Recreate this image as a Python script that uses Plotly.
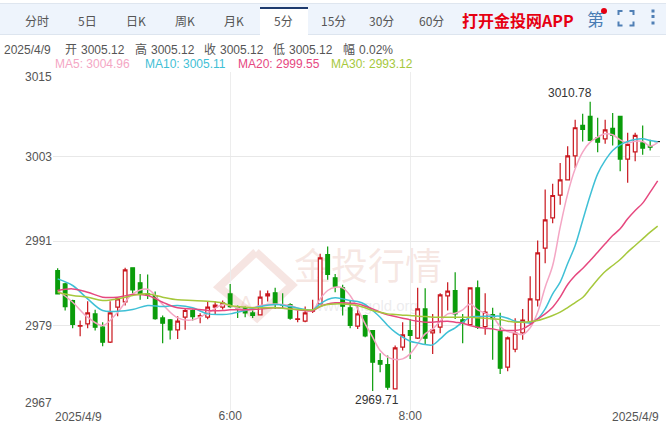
import plotly.graph_objects as go

open_ = [2986.81,2984.91,2982.55,2978.90,2979.23,2980.65,2978.76,2976.63,2981.60,2982.36,
 2987.19,2985.06,2983.49,2983.26,2980.08,2979.80,2978.38,2980.18,2981.13,2980.32,
 2980.18,2981.60,2981.60,2983.49,2981.69,2981.51,2980.79,2980.51,2983.21,2983.64,
 2981.98,2981.98,2979.85,2979.61,2981.03,2982.07,2989.08,2985.77,2984.35,2981.51,
 2978.90,2980.42,2978.29,2974.02,2973.46,2970.00,2975.92,2978.29,2977.20,2981.36,
 2977.95,2978.76,2983.21,2983.97,2979.80,2979.14,2984.35,2978.85,2980.56,2978.14,
 2973.08,2975.63,2977.95,2979.56,2982.64,2989.98,2994.29,2997.51,2999.69,3003.10,
 3007.41,3008.69,3005.66,3005.51,3006.98,3008.69,3002.63,3003.67,3004.95,3004.47,3005.12]
close = [2983.49,2981.69,2979.14,2979.00,2980.79,2978.76,2976.63,2980.79,2982.78,2986.90,
 2984.06,2983.49,2983.35,2979.99,2979.33,2978.38,2979.61,2981.13,2980.27,2980.42,
 2981.60,2981.88,2982.22,2981.69,2981.51,2980.79,2980.42,2983.02,2983.49,2981.98,
 2981.88,2980.04,2979.94,2980.79,2981.13,2988.61,2986.24,2984.58,2981.74,2979.00,
 2980.65,2977.53,2973.79,2973.50,2970.24,2975.82,2977.67,2977.58,2981.36,2977.20,
 2978.38,2983.35,2983.87,2980.65,2979.52,2984.35,2978.76,2980.89,2979.99,2972.94,
 2977.24,2977.91,2979.75,2982.78,2989.32,2994.01,2997.46,2999.69,3003.10,3007.08,
 3006.84,3005.28,3005.04,3006.79,3005.99,3002.63,3004.71,3005.99,3004.19,3004.33,3005.12]
high = [2987.14,2985.06,2982.64,2979.71,2982.45,2981.22,2979.47,2982.45,2982.88,2987.19,
 2987.28,2986.33,2986.24,2983.83,2980.42,2979.94,2980.32,2981.36,2981.27,2980.75,
 2982.45,2982.45,2982.55,2984.91,2981.84,2981.69,2981.13,2983.97,2983.97,2984.35,
 2983.59,2982.17,2981.13,2981.69,2982.64,2989.18,2990.22,2986.33,2984.77,2982.55,
 2981.69,2980.51,2978.29,2975.07,2974.73,2976.15,2979.47,2979.94,2984.35,2984.30,
 2980.65,2983.59,2985.15,2986.57,2980.65,2984.44,2985.39,2983.59,2981.51,2980.80,
 2977.43,2980.04,2981.36,2986.00,2991.07,2998.32,2999.12,3002.06,3004.47,3008.21,
 3009.07,3010.78,3008.50,3008.21,3009.16,3008.69,3006.37,3006.37,3007.41,3005.37,3005.12]
low = [2983.40,2981.13,2978.62,2977.48,2978.62,2978.29,2976.06,2976.53,2980.32,2981.84,
 2983.35,2982.64,2982.78,2979.80,2976.49,2977.01,2977.10,2978.38,2979.71,2979.33,
 2979.90,2980.65,2981.27,2981.51,2980.08,2980.18,2980.08,2980.42,2982.40,2981.36,
 2981.36,2979.80,2979.47,2979.47,2980.79,2981.98,2985.48,2983.73,2980.42,2978.62,
 2978.52,2977.34,2969.71,2972.37,2969.86,2969.95,2975.44,2974.26,2977.10,2976.39,
 2974.97,2977.91,2981.13,2979.94,2976.49,2979.00,2978.52,2977.67,2974.12,2972.13,
 2972.51,2975.21,2976.96,2979.23,2981.70,2987.84,2993.53,2996.14,2999.60,3001.35,
 3005.14,3005.20,3003.62,3004.80,3004.57,3000.92,2999.26,3002.34,3003.24,3003.86,3005.12]

ma_index = [0,2,4,6,8,10,12,14,16,18,20,22,23,25,27,29,31,33] + list(range(34, 81))
ma5 = [2983.97,2982.31,2980.18,2979.00,2980.89,2983.49,2984.16,2981.98,2980.08,2979.80,2980.79,2981.98,
 2981.84,2981.22,2981.84,2982.07,2981.84,2981.13,
 2981.13,2982.78,2983.97,2984.44,2984.35,2983.26,2981.36,2979.23,2977.34,2975.44,2974.50,2974.17,2974.26,2974.97,2976.39,2977.81,
 2978.52,2979.61,2980.65,2980.75,2981.22,2982.07,2981.22,2980.75,2980.27,2978.85,2978.14,2977.95,2977.72,2978.67,2980.89,2984.44,2987.52,
 2992.97,2997.70,3001.25,3003.62,3005.04,3005.75,3006.22,3006.08,3005.37,3004.90,3005.18,3005.14,3004.47,3004.96]
ma10 = [2985.62,2984.68,2982.78,2981.13,2981.03,2981.27,2981.84,2981.69,2981.84,2981.51,2980.65,2980.56,
 2980.65,2981.13,2981.69,2981.98,2981.69,2981.27,
 2981.22,2982.07,2982.69,2982.93,2982.78,2982.55,2982.40,2981.98,2981.13,2980.18,2979.00,2978.05,2977.34,2976.77,2976.53,2976.30,
 2976.25,2977.10,2978.05,2978.67,2979.47,2980.18,2980.27,2980.32,2980.32,2980.32,2980.04,2979.61,2979.47,2979.38,2979.94,2981.36,2983.49,
 2985.15,2987.80,2990.36,2993.91,2997.46,3000.54,3002.44,3003.86,3004.66,3005.14,3005.42,3005.51,3005.28,3005.11]
ma20 = [2983.97,2984.20,2983.73,2983.02,2983.02,2983.40,2983.26,2982.31,2981.51,2981.36,2981.13,2981.13,
 2981.22,2981.22,2981.36,2981.51,2981.36,2981.13,
 2981.13,2981.69,2982.07,2982.22,2982.22,2982.17,2982.07,2981.74,2981.36,2980.89,2980.51,2980.27,2980.04,2979.80,2979.61,2979.47,
 2979.47,2979.56,2979.61,2979.47,2979.33,2979.00,2978.76,2978.62,2978.52,2978.29,2978.29,2978.29,2978.52,2979.14,2979.94,2980.65,2981.60,
 2983.02,2984.82,2986.10,2987.09,2988.23,2989.42,2990.60,2991.78,2992.73,2994.15,2995.33,2996.38,2997.94,2999.55]
ma30 = [2983.73,2983.26,2983.02,2982.55,2982.78,2983.26,2983.49,2983.02,2982.64,2982.55,2982.45,2982.22,
 2981.84,2981.60,2981.51,2981.51,2981.36,2981.22,
 2981.22,2981.69,2981.98,2982.07,2982.07,2981.98,2981.84,2981.51,2981.13,2980.89,2980.65,2980.56,2980.46,2980.42,2980.32,2980.27,
 2980.18,2980.18,2980.18,2980.18,2980.18,2980.18,2980.09,2980.04,2979.94,2979.85,2979.61,2979.47,2979.47,2979.56,2979.71,2980.04,2980.42,
 2980.89,2981.55,2982.26,2982.97,2984.25,2985.53,2986.66,2987.52,2988.37,2989.42,2990.36,2991.31,2992.26,2993.12]

y_ticks = [3015, 3003, 2991, 2979, 2967]
time_ticks = [23, 47]
time_labels = ["6:00", "8:00"]
date_label = "2025/4/9"
tab_labels = ["分时", "5日", "日K", "周K", "月K", "5分", "15分", "30分", "60分"]
tab_centers = [37, 87, 136, 185, 234, 283, 333, 382, 431]
header = ["2025/4/9", "开", "3005.12", "高", "3005.12", "收", "3005.12", "低", "3005.12", "幅", "0.02%"]
header_x = [3, 64, 80, 134, 150, 203, 219, 272, 288, 342, 358]
ma_text = ["MA5: 3004.96", "MA10: 3005.11", "MA20: 2999.55", "MA30: 2993.12"]
ma_x = [54, 144, 237, 330]
ma_series = [ma5, ma10, ma20, ma30]
ma_names = ["MA5", "MA10", "MA20", "MA30"]
ma_colors = ["#f4a6c4", "#3fc0d6", "#e6487f", "#a6c83c"]

W, H = 666, 424
L, R, T, B = 53, 6, 72, 14
def px(x): return (x - L) / (W - L - R)
def py(y): return 1 - (y - T) / (H - T - B)

RED = "#c9171e"
GREEN = "#0a9c0a"
SANS = "Liberation Sans, Arial, sans-serif"
CJK = "Liberation Sans, Noto Sans CJK SC, sans-serif"

x = list(range(len(open_)))
fig = go.Figure()
fig.add_trace(go.Candlestick(
    x=x[:-1], open=open_[:-1], high=high[:-1], low=low[:-1], close=close[:-1],
    increasing=dict(line=dict(color=RED, width=1.2), fillcolor="#ffffff"),
    decreasing=dict(line=dict(color=GREEN, width=1.2), fillcolor=GREEN),
    whiskerwidth=0, showlegend=False, hoverinfo="skip"))
fig.add_trace(go.Scatter(
    x=x[-1:], y=close[-1:], mode="markers",
    marker=dict(symbol="line-ew", size=5, line=dict(color="#222222", width=1.2)),
    showlegend=False, hoverinfo="skip"))
for name, values, color in zip(ma_names, ma_series, ma_colors):
    fig.add_trace(go.Scatter(
        x=ma_index, y=values, mode="lines", name=name,
        line=dict(color=color, width=1.5, shape="spline", smoothing=1),
        showlegend=False, hoverinfo="skip"))

shapes = []
anns = []
def text(s, xp, yp, size=12, color="#555555", anchor="left", family=CJK, **kw):
    anns.append(dict(text=s, x=px(xp), y=py(yp), xref="paper", yref="paper", showarrow=False,
                     xanchor=anchor, yanchor="middle", font=dict(size=size, color=color, family=family),
                     borderpad=0, **kw))
def rect(x0, y0, x1, y1, fill, layer="above"):
    shapes.append(dict(type="rect", xref="paper", yref="paper", x0=px(x0), x1=px(x1), y0=py(y0), y1=py(y1),
                       fillcolor=fill, line=dict(width=0), layer=layer))
def path(d_pts, color, width, layer="above"):
    d = "M " + " L ".join(f"{px(a)} {py(b)}" for a, b in d_pts)
    shapes.append(dict(type="path", xref="paper", yref="paper", path=d,
                       line=dict(color=color, width=width), layer=layer))

# tab bar
rect(0, 3.5, 666, 34.5, "#eef4fc")
rect(0, 3, 666, 4, "#dfe6ef")
rect(0, 34, 666, 35, "#dde5ef")
rect(260, 7, 308, 36, "#ffffff")
rect(260, 7, 308, 9, "#1d3a6e")
for s, c in zip(tab_labels, tab_centers):
    text(s, c, 20.5, size=12, color="#555555", anchor="center", family="Noto Sans CJK SC")
text("<b>打开金投网APP</b>", 518, 20, size=16, color="#e60012", anchor="center", family="Noto Sans CJK SC")
text("第", 595, 19, size=17, color="#4a7db5", anchor="center", family="Noto Sans CJK SC")
shapes.append(dict(type="circle", xref="paper", yref="paper", x0=px(601), x1=px(607), y0=py(8), y1=py(14),
                   fillcolor="#e60012", line=dict(width=0)))
ICON = "#4f7fb5"
path([(618.5, 15), (618.5, 11), (622.5, 11)], ICON, 2)
path([(629.5, 11), (633.5, 11), (633.5, 15)], ICON, 2)
path([(618.5, 21.5), (618.5, 25.5), (622.5, 25.5)], ICON, 2)
path([(629.5, 25.5), (633.5, 25.5), (633.5, 21.5)], ICON, 2)
rect(651.5, 9.5, 654.5, 12.5, ICON)
rect(651.5, 15, 654.5, 18, ICON)
rect(651.5, 21.5, 654.5, 24.5, ICON)

# info lines
for s, xp in zip(header, header_x):
    text(s, xp, 50, size=12, color="#555555")
for s, xp, c in zip(ma_text, ma_x, ma_colors):
    text(s, xp, 64.5, size=12, color=c, family=SANS)

# watermark
WM = "rgba(226,170,158,0.30)"
path([(256, 252), (292, 285), (257, 318), (219, 287), (256, 252)], WM, 8, layer="below")
shapes.append(dict(type="rect", xref="paper", yref="paper", x0=px(290), x1=px(446), y0=py(254), y1=py(286),
                   line=dict(width=0), fillcolor="rgba(0,0,0,0)", layer="below",
                   label=dict(text="金投行情", font=dict(size=37, color="rgba(226,170,158,0.28)", family="Noto Sans CJK SC"),
                              textposition="middle center")))
shapes.append(dict(type="rect", xref="paper", yref="paper", x0=px(236), x1=px(256), y0=py(290), y1=py(312),
                   line=dict(width=0), fillcolor="rgba(0,0,0,0)", layer="below",
                   label=dict(text="A", font=dict(size=20, color="rgba(226,170,158,0.30)", family=SANS),
                              textposition="middle center")))
shapes.append(dict(type="rect", xref="paper", yref="paper", x0=px(290), x1=px(440), y0=py(296), y1=py(312),
                   line=dict(width=0), fillcolor="rgba(0,0,0,0)", layer="below",
                   label=dict(text="www.cngold.org", font=dict(size=15, color="rgba(200,200,205,0.35)", family=SANS),
                              textposition="middle center")))

# extreme axis labels and range end labels
text(str(y_ticks[0]), 53, 77, anchor="right", family=SANS)
text(str(y_ticks[-1]), 53, 403, anchor="right", family=SANS)
text(date_label, 54, 417, anchor="left", family=SANS)
text(date_label, 660, 417, anchor="right", family=SANS)

# extreme value labels
anns.append(dict(text=f"{max(high):.2f}", x=x[high.index(max(high))], y=max(high), showarrow=False,
                 xanchor="right", yanchor="bottom", xshift=4, yshift=0,
                 font=dict(size=12, color="#333333", family=SANS)))
anns.append(dict(text=f"{min(low):.2f}", x=x[low.index(min(low))], y=min(low), showarrow=False,
                 xanchor="center", yanchor="top", xshift=4, yshift=0,
                 font=dict(size=12, color="#333333", family=SANS)))

fig.update_layout(
    width=W, height=H, margin=dict(l=L, r=R, t=T, b=B, pad=0, autoexpand=False),
    paper_bgcolor="#ffffff", plot_bgcolor="#ffffff", shapes=shapes, annotations=anns,
    showlegend=False, hovermode=False,
    xaxis=dict(range=[-0.62, 80.31], rangeslider=dict(visible=False), tickmode="array",
               tickvals=time_ticks, ticktext=time_labels, showgrid=True, gridcolor="#ededed", gridwidth=1,
               zeroline=False, showline=False, ticks="", ticklen=0, ticklabelstandoff=-3,
               tickfont=dict(size=12, color="#555555", family=SANS)),
    yaxis=dict(range=[2967, 3015], tickmode="array", tickvals=y_ticks,
               ticktext=["", "3003", "2991", "2979", ""], showgrid=True, gridcolor="#e8e8e8", gridwidth=1,
               zeroline=False, showline=False, ticks="", ticklen=0,
               tickfont=dict(size=12, color="#555555", family=SANS)),
)
fig.write_html("out.html", config=dict(displayModeBar=False),
               post_script="document.body.style.margin='0';document.body.style.overflow='hidden';")
